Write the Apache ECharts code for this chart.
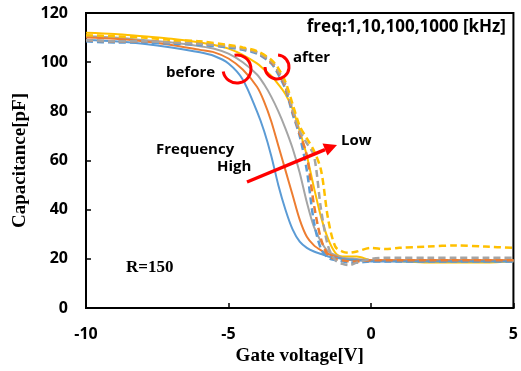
<!DOCTYPE html>
<html>
<head>
<meta charset="utf-8">
<script src="https://cdn.jsdelivr.net/npm/echarts@6/dist/echarts.min.js"></script>
<style>
  html, body { margin: 0; padding: 0; background: #fff; }
  #chart { width: 521px; height: 371px; }
</style>
</head>
<body>
<div id="chart"></div>
<script>
// gate voltage for the "before" sweeps (solid)
var xBefore = [-10, -9, -8, -7, -6, -5.5, -5, -4.5, -4, -3.75, -3.5, -3.25, -3, -2.75, -2.5, -2.25, -2, -1.75, -1.5, -1.25, -1, -0.5, 0, 1, 2, 3, 4, 5];
var blueBefore   = [109, 108.5, 107.5, 106, 104, 102.5, 99.5, 93, 80, 72, 62, 50, 40, 32, 27, 24.5, 23, 22, 21, 20.5, 20, 19.5, 19, 19, 19, 19, 19, 19];
var orangeBefore = [110, 109.5, 108.5, 107, 105, 104, 101.5, 97, 90, 84, 76, 66, 56, 46, 36, 29, 25.5, 23.5, 22, 21, 20, 19.5, 19.5, 19.5, 19.5, 19.5, 19.5, 19.5];
var grayBefore   = [110.5, 110, 109, 108, 106.5, 105.5, 103.5, 100, 95, 91, 86, 80, 73, 65, 55, 43, 33, 27, 23, 21.5, 20.5, 20, 19.5, 19.5, 19.5, 19.5, 19.5, 19.5];
var yellowBefore = [112, 111.5, 110.5, 109.5, 108, 107, 105.5, 103, 99.5, 97, 94.5, 91, 87, 81, 72, 62, 49, 37, 28, 22.5, 21, 21, 19.5, 19, 18.5, 18.5, 18.5, 19];

// gate voltage for the "after" sweeps (dashed)
var xAfter = [-10, -9, -8, -7, -6, -5, -4.5, -4, -3.5, -3.25, -3, -2.75, -2.5, -2.25, -2, -1.75, -1.5, -1.25, -1, -0.75, -0.5, 0, 0.5, 1, 2, 3, 4, 5];
var blueAfter   = [108.5, 108, 108, 107.5, 107, 106, 105, 103.5, 99.5, 95, 89, 79, 70, 56, 35, 24, 20.5, 19.5, 19, 18.5, 18.5, 19, 19, 19, 19, 19, 19, 19];
var orangeAfter = [109, 108.5, 108.5, 108, 107.5, 106.5, 105.5, 104, 100, 96, 90, 80, 71, 62, 42, 28, 21.5, 20, 19.5, 19, 19, 19.5, 19.5, 19.5, 19.5, 19.5, 19.5, 19.5];
var grayAfter   = [109, 108.5, 108.5, 108, 107.5, 106.5, 105.5, 104, 100.5, 96.5, 91, 81, 72, 67, 62, 40, 25, 19.5, 18, 17.5, 18.5, 20, 20.5, 20.5, 20.5, 20.5, 20.5, 20.5];
var yellowAfter = [111, 110.5, 110, 109, 108.5, 107, 106, 104.5, 101, 97.5, 92, 83, 74, 69, 64, 56, 36, 25, 23, 22.5, 23, 24.5, 24, 24.5, 25, 25.5, 25, 24.5];

var xTicks = [-10, -5, 0, 5];
var yTicks = [0, 20, 40, 60, 80, 100, 120];

var colors = { blue: '#5B9BD5', orange: '#ED7D31', gray: '#A5A5A5', yellow: '#FFC000' };

function pairs(xs, ys) {
  return xs.map(function (x, i) { return [x, ys[i]]; });
}

function mkSeries(name, xs, ys, color, dashed) {
  return {
    name: name,
    type: 'line',
    data: pairs(xs, ys),
    showSymbol: false,
    smooth: 0.3,
    animation: false,
    lineStyle: {
      color: color,
      width: dashed ? 2.5 : 2,
      type: dashed ? [7, 4] : 'solid'
    }
  };
}

function note(text, pos, size, family) {
  return Object.assign({
    type: 'text', z: 100,
    style: {
      text: text,
      fontFamily: family || 'Open Sans',
      fontWeight: 'bold',
      fontSize: size || 15,
      fill: '#000'
    }
  }, pos);
}

var chart = echarts.init(document.getElementById('chart'));

var labelFont = { color: '#000', fontFamily: 'Open Sans', fontWeight: 'bold', fontSize: 16 };
var nameFont = { color: '#000', fontFamily: 'Liberation Serif', fontWeight: 'bold', fontSize: 19 };

var option = {
  animation: false,
  grid: { left: 86, right: 7, top: 13, bottom: 61, show: true, borderColor: '#000', borderWidth: 2 },
  xAxis: {
    type: 'value',
    min: xTicks[0],
    max: xTicks[xTicks.length - 1],
    interval: 5,
    name: 'Gate voltage[V]',
    nameLocation: 'middle',
    nameGap: 38,
    nameTextStyle: nameFont,
    axisLine: { onZero: false, lineStyle: { color: '#000', width: 2 } },
    axisTick: { inside: true, length: 5, lineStyle: { color: '#000', width: 1.5 } },
    axisLabel: Object.assign({ margin: 18 }, labelFont),
    splitLine: { show: false }
  },
  yAxis: {
    type: 'value',
    min: yTicks[0],
    max: yTicks[yTicks.length - 1],
    interval: 20,
    name: 'Capacitance[pF]',
    nameLocation: 'middle',
    nameGap: 46,
    nameTextStyle: nameFont,
    axisLine: { onZero: false, lineStyle: { color: '#000', width: 2 } },
    axisTick: { inside: true, length: 5, lineStyle: { color: '#000', width: 1.5 } },
    axisLabel: Object.assign({ margin: 18 }, labelFont),
    splitLine: { show: false }
  },
  series: [
    mkSeries('1k before', xBefore, yellowBefore, colors.yellow, false),
    mkSeries('10k before', xBefore, grayBefore, colors.gray, false),
    mkSeries('100k before', xBefore, orangeBefore, colors.orange, false),
    mkSeries('1000k before', xBefore, blueBefore, colors.blue, false),
    mkSeries('1000k after', xAfter, blueAfter, colors.blue, true),
    mkSeries('100k after', xAfter, orangeAfter, colors.orange, true),
    mkSeries('10k after', xAfter, grayAfter, colors.gray, true),
    mkSeries('1k after', xAfter, yellowAfter, colors.yellow, true)
  ],
  graphic: [
    note('freq:1,10,100,1000 [kHz]', { right: 15, top: 19 }, 17),
    note('before', { left: 166, top: 65 }),
    note('after', { left: 293, top: 50 }),
    note('Frequency', { left: 156, top: 142 }),
    note('High', { left: 217, top: 159 }),
    note('Low', { left: 341, top: 133 }),
    note('R=150', { left: 126, top: 259 }, 17, 'Liberation Serif'),
    {
      type: 'arc', z: 100,
      shape: { cx: 237, cy: 69, r: 14, startAngle: -100 * Math.PI / 180, endAngle: 170 * Math.PI / 180, clockwise: true },
      style: { stroke: '#FF0000', lineWidth: 3, fill: null }
    },
    {
      type: 'arc', z: 100,
      shape: { cx: 277, cy: 67, r: 12, startAngle: -85 * Math.PI / 180, endAngle: 180 * Math.PI / 180, clockwise: true },
      style: { stroke: '#FF0000', lineWidth: 3, fill: null }
    },
    {
      type: 'line', z: 100,
      shape: { x1: 247, y1: 182, x2: 325, y2: 149.6 },
      style: { stroke: '#FF0000', lineWidth: 3.5 }
    },
    {
      type: 'polygon', z: 100,
      shape: { points: [[337, 145], [327.5, 155.5], [322.5, 143.5]] },
      style: { fill: '#FF0000' }
    }
  ]
};

chart.setOption(option);
</script>
</body>
</html>
